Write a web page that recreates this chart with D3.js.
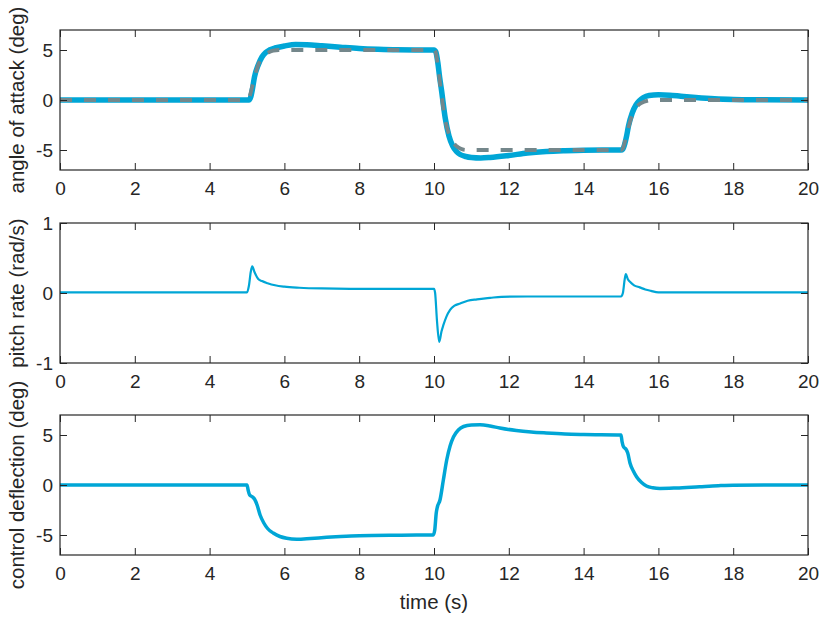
<!DOCTYPE html>
<html>
<head>
<meta charset="utf-8">
<script src="https://cdn.jsdelivr.net/npm/d3@7/dist/d3.min.js"></script>
<style>
  html, body { margin: 0; padding: 0; background: #ffffff; }
  svg { display: block; }
  text { font-family: "Liberation Sans", Arial, Helvetica, sans-serif; fill: #262626; }
</style>
</head>
<body>
<svg id="chart" width="823" height="618"></svg>
<script>
// Shared time axis
const timeTicks = [0, 2, 4, 6, 8, 10, 12, 14, 16, 18, 20];

// Angle of attack: commanded reference (deg)
const aoaRefTime  = [0, 5.0, 5.05, 5.1, 5.15, 5.2, 5.3, 5.4, 5.5, 5.6, 5.7, 5.85, 10.0, 10.05, 10.1, 10.15, 10.2, 10.3, 10.4, 10.5, 10.6, 10.7, 10.85, 15.0, 15.05, 15.1, 15.15, 15.2, 15.3, 15.4, 15.5, 15.6, 15.7, 15.85, 20];
const aoaRefValue = [0, 0, 0.15, 0.75, 1.5, 2.25, 3.5, 4.2, 4.6, 4.8, 4.93, 5.0, 5.0, 4.7, 3.5, 2.0, 0.5, -2.0, -3.4, -4.2, -4.6, -4.85, -5.0, -5.0, -4.85, -4.25, -3.5, -2.75, -1.5, -0.8, -0.4, -0.2, -0.08, 0, 0];

// Angle of attack: measured response (deg)
const aoaTime  = [0, 5.05, 5.1, 5.15, 5.2, 5.3, 5.4, 5.5, 5.6, 5.75, 6.0, 6.3, 6.6, 7.0, 7.5, 8.0, 8.5, 9.0, 10.0, 10.05, 10.1, 10.15, 10.2, 10.3, 10.4, 10.5, 10.6, 10.7, 10.85, 11.0, 11.25, 11.5, 12.0, 12.5, 13.0, 13.5, 14.0, 15.0, 15.05, 15.1, 15.15, 15.2, 15.3, 15.4, 15.5, 15.6, 15.75, 16.0, 16.3, 16.6, 17.0, 17.5, 18.0, 18.5, 20];
const aoaValue = [0, 0, 0.3, 1.2, 2.3, 3.5, 4.3, 4.75, 5.0, 5.2, 5.4, 5.55, 5.52, 5.42, 5.28, 5.15, 5.07, 5.02, 5.0, 4.8, 3.8, 2.3, 1.0, -1.8, -3.6, -4.6, -5.15, -5.45, -5.65, -5.75, -5.8, -5.75, -5.55, -5.3, -5.15, -5.07, -5.02, -5.0, -4.9, -4.4, -3.6, -2.6, -1.3, -0.5, -0.05, 0.25, 0.45, 0.52, 0.48, 0.38, 0.25, 0.12, 0.05, 0.02, 0];

// Pitch rate (rad/s)
const qTime  = [0, 4.95, 5.0, 5.05, 5.1, 5.14, 5.2, 5.3, 5.4, 5.55, 5.75, 6.0, 6.4, 7.0, 8.0, 10.0, 10.03, 10.08, 10.14, 10.2, 10.25, 10.33, 10.43, 10.55, 10.7, 10.9, 11.15, 11.5, 11.8, 12.5, 15.0, 15.05, 15.1, 15.13, 15.18, 15.24, 15.35, 15.5, 15.65, 15.8, 16.0, 20];
const qValue = [0.01, 0.01, 0.01, 0.1, 0.3, 0.38, 0.3, 0.2, 0.17, 0.14, 0.11, 0.09, 0.075, 0.065, 0.06, 0.06, 0.0, -0.4, -0.7, -0.55, -0.46, -0.34, -0.24, -0.18, -0.15, -0.11, -0.09, -0.07, -0.055, -0.05, -0.05, 0.0, 0.2, 0.27, 0.2, 0.16, 0.11, 0.08, 0.05, 0.03, 0.01, 0.01];

// Control surface deflection (deg)
const deltaTime  = [0, 5.0, 5.03, 5.07, 5.15, 5.2, 5.27, 5.35, 5.45, 5.55, 5.7, 5.88, 6.06, 6.33, 6.7, 7.13, 7.5, 8.0, 9.0, 9.98, 10.02, 10.06, 10.09, 10.16, 10.25, 10.34, 10.43, 10.52, 10.65, 10.79, 11.0, 11.23, 11.5, 11.76, 12.2, 12.6, 13.0, 13.5, 14.0, 15.0, 15.03, 15.07, 15.13, 15.18, 15.24, 15.33, 15.42, 15.55, 15.68, 15.85, 16.04, 16.48, 17.1, 17.6, 18.0, 20];
const deltaValue = [0, 0, -0.5, -1.0, -1.2, -1.4, -2.0, -3.0, -3.8, -4.35, -4.8, -5.15, -5.33, -5.43, -5.35, -5.23, -5.15, -5.07, -5.02, -5.0, -4.5, -2.8, -2.2, -1.5, 0.5, 2.5, 3.9, 4.8, 5.5, 5.85, 6.0, 6.02, 5.9, 5.7, 5.45, 5.3, 5.2, 5.1, 5.05, 5.0, 4.3, 3.8, 3.6, 3.2, 2.2, 1.4, 0.8, 0.25, -0.1, -0.28, -0.35, -0.3, -0.17, -0.07, -0.02, 0];

// Y axis ticks per panel
const degTicks = [-5, 0, 5];
const rateTicks = [-1, 0, 1];

const blue = "#00A6D6";
const gray = "#74878B";
const axisColor = "#262626";

const svg = d3.select("#chart");
const left = 60, right = 808, panelH = 140;

const x = d3.scaleLinear().domain([0, 20]).range([left, right]);
const plainNumber = d => String(d);

const panels = [
  { top: 30,  domain: [-7, 7], ticks: degTicks,  label: "angle of attack (deg)" },
  { top: 223, domain: [-1, 1], ticks: rateTicks, label: "pitch rate (rad/s)" },
  { top: 415, domain: [-7, 7], ticks: degTicks,  label: "control deflection (deg)" }
];

panels.forEach((p, i) => {
  p.y = d3.scaleLinear().domain(p.domain).range([p.top + panelH, p.top]);
  const g = svg.append("g");

  const clipId = "clip" + i;
  svg.append("clipPath").attr("id", clipId)
    .append("rect").attr("x", left).attr("y", p.top).attr("width", right - left).attr("height", panelH);
  p.plot = g.append("g").attr("clip-path", `url(#${clipId})`);

  // Axes with inward ticks on all four sides
  const tl = 7;
  const bottomAx = d3.axisBottom(x).tickValues(timeTicks).tickSizeInner(-tl).tickSizeOuter(0).tickPadding(12).tickFormat(plainNumber);
  const topAx = d3.axisTop(x).tickValues(timeTicks).tickSizeInner(-tl).tickSizeOuter(0).tickFormat("");
  const leftAx = d3.axisLeft(p.y).tickValues(p.ticks).tickSizeInner(-tl).tickSizeOuter(0).tickPadding(7).tickFormat(plainNumber);
  const rightAx = d3.axisRight(p.y).tickValues(p.ticks).tickSizeInner(-tl).tickSizeOuter(0).tickFormat("");

  const axG = g.append("g").attr("class", "axes");
  axG.append("g").attr("transform", `translate(0,${p.top + panelH})`).call(bottomAx);
  axG.append("g").attr("transform", `translate(0,${p.top})`).call(topAx);
  axG.append("g").attr("transform", `translate(${left},0)`).call(leftAx);
  axG.append("g").attr("transform", `translate(${right},0)`).call(rightAx);
  axG.selectAll(".domain").remove();
  axG.selectAll(".tick line").attr("stroke", axisColor).attr("stroke-width", 1);
  axG.selectAll(".tick text").attr("font-size", 19).attr("fill", axisColor)
    .style("font-family", "'Liberation Sans', Arial, sans-serif");

  // Box
  g.append("rect").attr("x", left).attr("y", p.top).attr("width", right - left).attr("height", panelH)
    .attr("fill", "none").attr("stroke", axisColor).attr("stroke-width", 1.2);

  // Y label
  g.append("text")
    .attr("transform", `translate(24,${p.top + panelH / 2}) rotate(-90)`)
    .attr("text-anchor", "middle")
    .attr("font-size", 20.5)
    .text(p.label);
});

function drawLine(panel, tArr, vArr, opts) {
  const pts = tArr.map((t, i) => [t, vArr[i]]);
  const line = d3.line().x(d => x(d[0])).y(d => panel.y(d[1])).curve(d3.curveMonotoneX);
  panel.plot.append("path").datum(pts)
    .attr("d", line)
    .attr("fill", "none")
    .attr("stroke", opts.color)
    .attr("stroke-width", opts.width)
    .attr("stroke-linejoin", "round")
    .attr("stroke-linecap", opts.cap || "round")
    .attr("stroke-dasharray", opts.dash || null);
}

drawLine(panels[0], aoaTime, aoaValue, { color: blue, width: 5.5 });
drawLine(panels[0], aoaRefTime, aoaRefValue, { color: gray, width: 3.8, dash: "12,12", cap: "butt" });
drawLine(panels[1], qTime, qValue, { color: blue, width: 2.2 });
drawLine(panels[2], deltaTime, deltaValue, { color: blue, width: 3.5 });

// X label
svg.append("text")
  .attr("x", (left + right) / 2)
  .attr("y", 609)
  .attr("text-anchor", "middle")
  .attr("font-size", 20.5)
  .text("time (s)");
</script>
</body>
</html>
